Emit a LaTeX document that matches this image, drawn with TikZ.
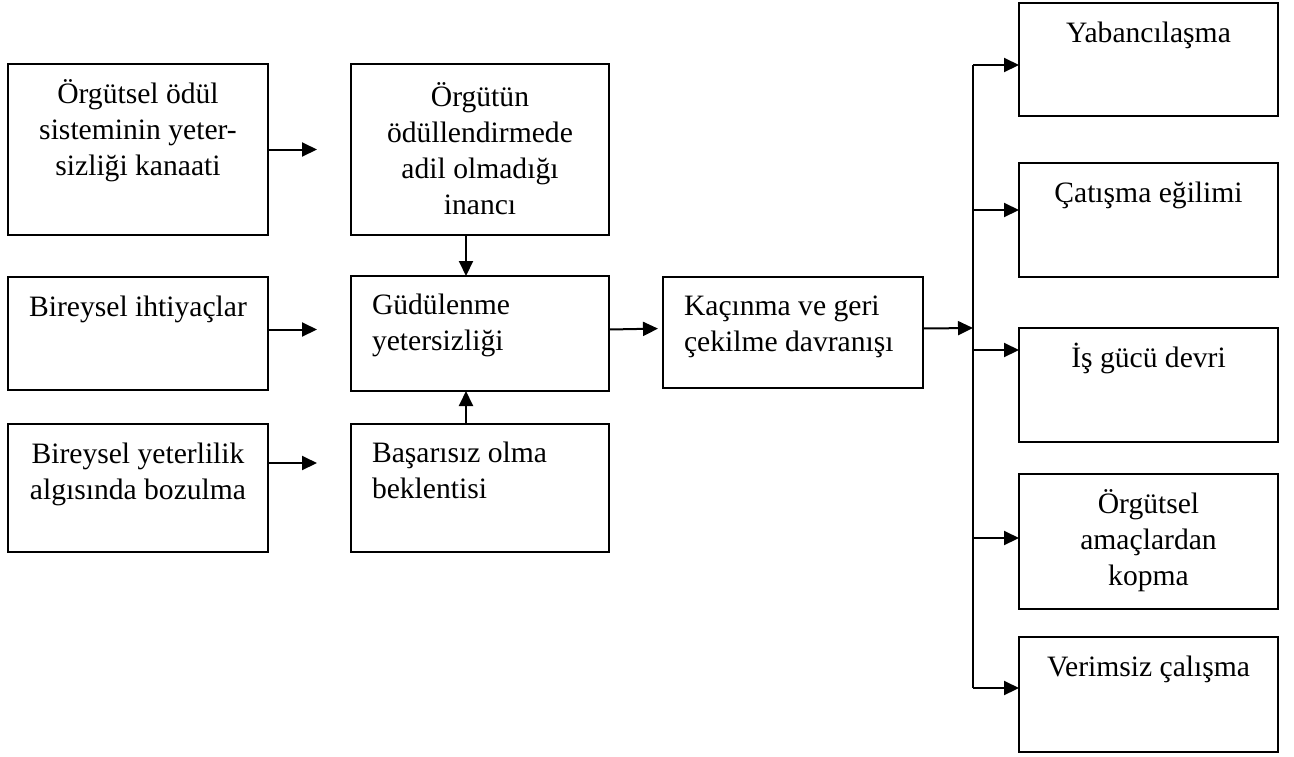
\documentclass[tikz,border=0pt]{standalone}
\usepackage{fontspec}
\setmainfont{Liberation Serif}
\usetikzlibrary{arrows.meta}
\newcommand{\ctext}[3]{\parbox[c][#2][t]{#1}{\centering\rule{0pt}{19.5pt}#3}}
\newcommand{\ltext}[3]{\parbox[c][#2][t]{#1}{\raggedright\leftskip=10.5pt\rule{0pt}{19pt}#3}}
\begin{document}
\begin{tikzpicture}[x=0.5pt,y=-0.5pt,
  bx/.style={draw,line width=1pt,inner sep=0pt,outer sep=0pt,font=\fontsize{14.8pt}{18pt}\selectfont},
  arr/.style={line width=1pt,-{Triangle[length=7.5pt,width=7pt]}},
  ln/.style={line width=1pt}]
\useasboundingbox (0,0) rectangle (1294,756);
% left column
\node[bx] (b1) at (138,149.5) {\ctext{130pt}{85.5pt}{Örgütsel ödül\\sisteminin yeter-\\sizliği kanaati}};
\node[bx] (b3) at (138,333.5) {\ctext{130pt}{56.5pt}{Bireysel ihtiyaçlar}};
\node[bx] (b5) at (138,488) {\ctext{130pt}{64pt}{Bireysel yeterlilik\\algısında bozulma}};
% middle column
\node[bx] (b2) at (480,149.5) {\ctext{129pt}{85.5pt}{\rule{0pt}{21pt}Örgütün\\ödüllendirmede\\adil olmadığı\\inancı}};
\node[bx] (b4) at (480,333.5) {\ltext{129pt}{57.5pt}{Güdülenme\\yetersizliği}};
\node[bx] (b6) at (480,488) {\ltext{129pt}{64pt}{Başarısız olma\\beklentisi}};
% centre-right
\node[bx] (b7) at (793,332.5) {\ltext{130pt}{55.5pt}{Kaçınma ve geri\\çekilme davranışı}};
% right column
\node[bx] (r1) at (1148.5,59.5) {\ctext{129.5pt}{56.5pt}{Yabancılaşma}};
\node[bx] (r2) at (1148.5,220) {\ctext{129.5pt}{57pt}{Çatışma eğilimi}};
\node[bx] (r3) at (1148.5,385) {\ctext{129.5pt}{57pt}{\rule{0pt}{17pt}İş gücü devri}};
\node[bx] (r4) at (1148.5,541.5) {\ctext{129.5pt}{67.5pt}{\rule{0pt}{18pt}Örgütsel\\amaçlardan\\kopma}};
\node[bx] (r5) at (1148.5,694.5) {\ctext{129.5pt}{57.5pt}{\rule{0pt}{18pt}Verimsiz çalışma}};
% connectors left -> middle
\draw[arr,shorten >=17pt] (b1.east) -- (b2.west);
\draw[arr,shorten >=17pt] ([yshift=2pt]b3.east) -- ([yshift=2pt]b4.west);
\draw[arr,shorten >=17pt] ([yshift=12.5pt]b5.east) -- ([yshift=12.5pt]b6.west);
% vertical into Güdülenme
\draw[arr] ([xshift=-7pt]b2.south) -- ([xshift=-7pt]b4.north);
\draw[arr] ([xshift=-7pt]b6.north) -- ([xshift=-7pt]b4.south);
% Güdülenme -> Kaçınma
\draw[arr,shorten >=2.5pt] ([yshift=2pt]b4.east) -- ([yshift=2pt]b7.west);
% trunk
\coordinate (t1) at (973,65);
\coordinate (t2) at (973,210);
\coordinate (tj) at (973,328);
\coordinate (t3) at (973,350);
\coordinate (t4) at (973,538);
\coordinate (t5) at (973,688);
\draw[ln] (t1) -- (t5);
\draw[arr] ([yshift=2pt]b7.east) -- (tj);
\draw[arr] (t1) -- (t1 -| r1.west);
\draw[arr] (t2) -- (t2 -| r2.west);
\draw[arr] (t3) -- (t3 -| r3.west);
\draw[arr] (t4) -- (t4 -| r4.west);
\draw[arr] (t5) -- (t5 -| r5.west);
\end{tikzpicture}
\end{document}
